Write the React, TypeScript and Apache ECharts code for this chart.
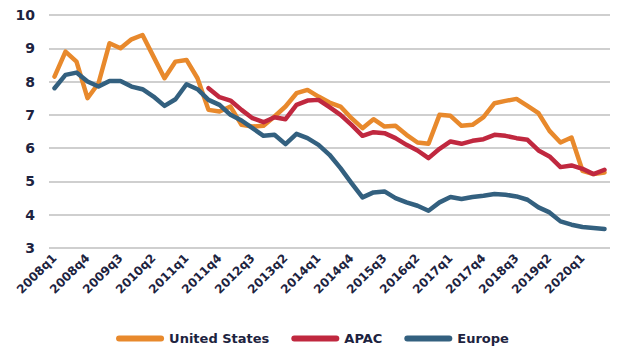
import React, { useEffect, useRef } from "react";
import * as echarts from "echarts";

const quarters: string[] = [];
for (let y = 2008; y <= 2020; y++) {
  for (let q = 1; q <= 4; q++) {
    if (y === 2020 && q > 3) break;
    quarters.push(`${y}q${q}`);
  }
}

const unitedStates = [
  8.15, 8.9, 8.6, 7.5, 7.95, 9.15, 9.0, 9.27, 9.4, 8.75,
  8.1, 8.6, 8.65, 8.1, 7.15, 7.1, 7.25, 6.7, 6.65, 6.67,
  6.95, 7.25, 7.65, 7.75, 7.55, 7.37, 7.25, 6.9, 6.6, 6.87,
  6.65, 6.67, 6.4, 6.17, 6.13, 7.0, 6.97, 6.67, 6.7, 6.93,
  7.35, 7.42, 7.48, 7.27, 7.05, 6.52, 6.17, 6.32, 5.32, 5.22,
  5.27,
];

const apac: (number | null)[] = [
  null, null, null, null, null, null, null, null, null, null,
  null, null, null, null, 7.8, 7.53, 7.43, 7.15, 6.9, 6.78,
  6.93, 6.87, 7.3, 7.43, 7.45, 7.23, 7.0, 6.7, 6.37, 6.48,
  6.45, 6.3, 6.1, 5.93, 5.7, 5.98, 6.2, 6.13, 6.22, 6.27,
  6.4, 6.37, 6.3, 6.25, 5.93, 5.75, 5.43, 5.48, 5.38, 5.22,
  5.35,
];

const europe = [
  7.8, 8.2, 8.27, 8.0, 7.85, 8.02, 8.02, 7.85, 7.77, 7.55,
  7.27, 7.47, 7.92, 7.77, 7.45, 7.3, 7.0, 6.83, 6.6, 6.37,
  6.4, 6.12, 6.43, 6.3, 6.1, 5.8, 5.4, 4.95, 4.52, 4.67,
  4.7, 4.5, 4.37, 4.27, 4.12, 4.37, 4.53, 4.47, 4.53, 4.57,
  4.62, 4.6, 4.55, 4.45, 4.22, 4.07, 3.8, 3.7, 3.63, 3.6,
  3.57,
];

const textColor = "#1d2340";
const fontFamily = "'DejaVu Sans', sans-serif";
const legendIcon =
  "path://M3,0 L45,0 A3,3 0 0 1 45,6 L3,6 A3,3 0 0 1 3,0 Z";

export default function App() {
  const ref = useRef<HTMLDivElement>(null);
  useEffect(() => {
    if (!ref.current) return;
    const chart = echarts.init(ref.current, null, { renderer: "svg" });
    const mk = (name: string, data: (number | null)[], color: string) => ({
      name,
      type: "line",
      data,
      symbol: "none",
      smooth: false,
      lineStyle: { width: 4.5, color, cap: "round", join: "round" },
      itemStyle: { color },
    });
    chart.setOption({
      animation: false,
      backgroundColor: "#ffffff",
      grid: { left: 49, right: 15, top: 15, bottom: 110 },
      legend: {
        bottom: 8,
        left: "center",
        itemWidth: 48,
        itemHeight: 6,
        itemGap: 22,
        icon: legendIcon,
        textStyle: {
          color: textColor,
          fontFamily,
          fontWeight: "bold",
          fontSize: 13,
        },
        data: ["United States", "APAC", "Europe"],
      },
      xAxis: {
        type: "category",
        data: quarters,
        boundaryGap: true,
        axisLine: { show: false },
        axisTick: { show: false },
        axisLabel: {
          interval: 2,
          rotate: 45,
          margin: 8,
          color: textColor,
          fontFamily,
          fontWeight: "bold",
          fontSize: 12,
        },
      },
      yAxis: {
        type: "value",
        min: 3,
        max: 10,
        interval: 1,
        axisLine: { show: false },
        axisTick: { show: false },
        axisLabel: {
          margin: 14,
          color: textColor,
          fontFamily,
          fontWeight: "bold",
          fontSize: 14,
        },
        splitLine: { lineStyle: { color: "#bfbfbf", width: 1.5 } },
      },
      series: [
        mk("United States", unitedStates, "#e8892c"),
        mk("APAC", apac, "#c0283f"),
        mk("Europe", europe, "#33607f"),
      ],
    });
    return () => chart.dispose();
  }, []);
  return <div ref={ref} style={{ width: 625, height: 358, position: "absolute", left: 0, top: 0 }} />;
}
